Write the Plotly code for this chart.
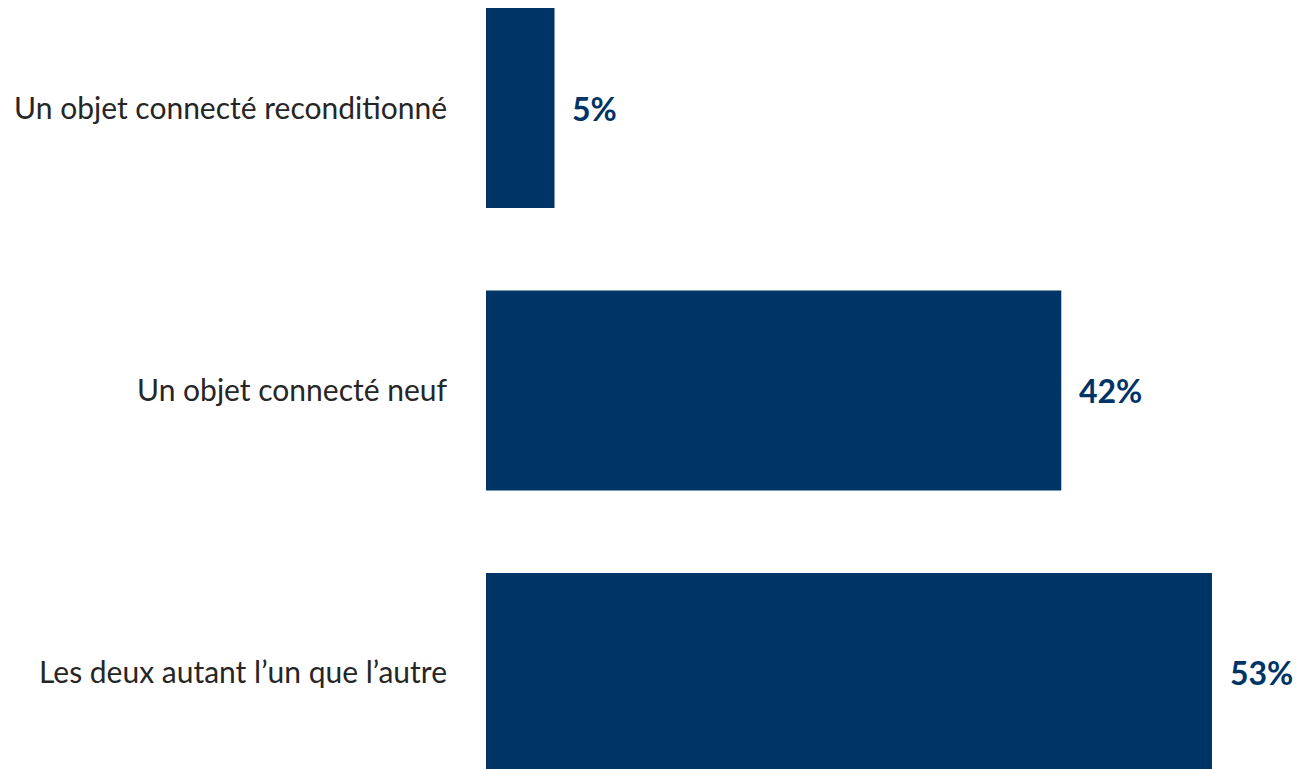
import plotly.graph_objects as go

categories = ["Un objet connecté reconditionné", "Un objet connecté neuf", "Les deux autant l’un que l’autre"]
values = [5, 42, 53]
value_labels = ["5%", "42%", "53%"]

BAR_COLOR = "#003366"
FONT = "Lato, Open Sans, sans-serif"

fig = go.Figure(go.Bar(
    x=values,
    y=categories,
    orientation="h",
    marker=dict(color=BAR_COLOR, line=dict(width=0)),
    width=0.708,
    hoverinfo="skip",
))

for v, c, t in zip(values, categories, value_labels):
    fig.add_annotation(
        x=v, y=c, text=t, showarrow=False,
        xanchor="left", yanchor="middle", xshift=16,
        font=dict(family=FONT, size=32, color=BAR_COLOR, weight="bold"),
    )

fig.update_layout(
    width=1293, height=761,
    margin=dict(l=478, r=0, t=0, b=0),
    plot_bgcolor="white", paper_bgcolor="white",
    showlegend=False,
    font=dict(family=FONT),
)
fig.update_xaxes(range=[0, 59.5], visible=False, showgrid=False, zeroline=False)
fig.update_yaxes(
    type="category",
    categoryorder="array", categoryarray=categories,
    range=[2.340, -0.354],
    showgrid=False, zeroline=False, showline=False, ticks="",
    tickfont=dict(family=FONT, size=30, color="#262626"),
    ticklabelstandoff=38,
)

fig.write_html("out.html")
